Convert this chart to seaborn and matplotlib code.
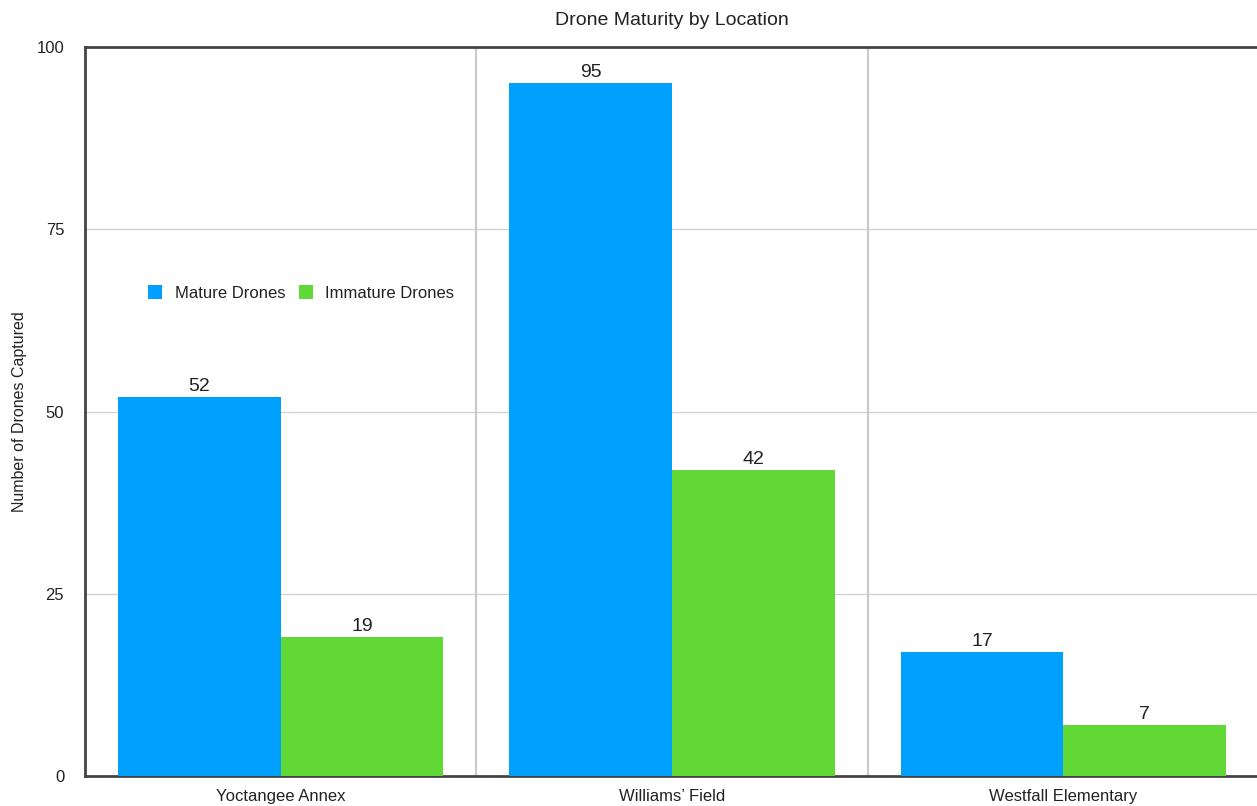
import matplotlib
matplotlib.use("Agg")
import matplotlib.pyplot as plt
import seaborn as sns
import pandas as pd

locations = ["Yoctangee Annex", "Williams\u2019 Field", "Westfall Elementary"]
series_names = ["Mature Drones", "Immature Drones"]
mature = [52, 95, 17]
immature = [19, 42, 7]
colors = ["#00A0FF", "#62D836"]
yticks = [0, 25, 50, 75, 100]

df = pd.DataFrame({
    "Location": locations * 2,
    "Series": [series_names[0]] * 3 + [series_names[1]] * 3,
    "Count": mature + immature,
})

sns.set_style("white")
plt.rcParams["font.family"] = ["Liberation Sans", "DejaVu Sans"]

fig = plt.figure(figsize=(12.57, 8.06), dpi=100)
ax = fig.add_axes([85 / 1257, 30 / 806, 1174 / 1257, 729 / 806])

sns.barplot(data=df, x="Location", y="Count", hue="Series", order=locations,
            hue_order=series_names, palette=colors, width=0.832, gap=0,
            saturation=1, ax=ax, linewidth=0, zorder=3)

for c in ax.containers:
    ax.bar_label(c, fmt="%d", padding=1.5, fontsize=14, color="#222222")

ax.set_ylim(0, 100)
ax.set_xlim(-0.5, 2.5)
ax.set_yticks(yticks)
ax.set_yticklabels([str(v) for v in yticks], fontsize=12, color="#222222")
ax.tick_params(axis="y", length=0, pad=15)
ax.tick_params(axis="x", length=0, pad=9.5, labelsize=12, labelcolor="#222222")
ax.set_xlabel("")
ax.set_ylabel("Number of Drones Captured", fontsize=11.5, color="#222222")
ax.yaxis.set_label_coords((27 - 85) / 1174, 0.5)

for y in [25, 50, 75]:
    ax.axhline(y, color="#d4d4d4", linewidth=1, zorder=1)
for x in [0.5, 1.5]:
    ax.axvline(x, color="#c8c8c8", linewidth=1.5, zorder=1)

for side in ["left", "bottom", "top"]:
    ax.spines[side].set_visible(True)
    ax.spines[side].set_color("#444444")
    ax.spines[side].set_linewidth(2)
ax.spines["right"].set_visible(False)

ax.set_title("Drone Maturity by Location", fontsize=14, color="#222222", pad=16)

leg = ax.legend(loc="center left", bbox_to_anchor=((148 - 85) / 1174, (776 - 293) / 729),
                ncol=2, frameon=False, fontsize=12, handlelength=0.85, handleheight=0.85,
                handletextpad=0.75, columnspacing=0.8, borderpad=0, borderaxespad=0)
for t in leg.get_texts():
    t.set_color("#222222")

fig.savefig("out.png", dpi=100)
